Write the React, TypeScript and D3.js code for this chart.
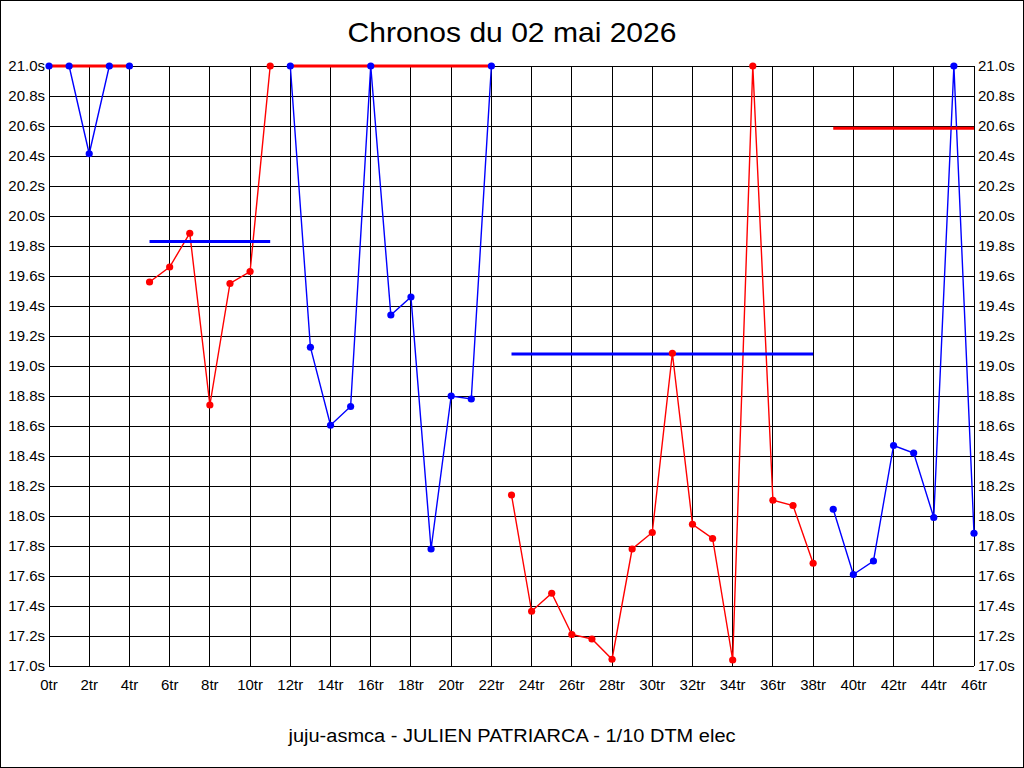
import React from "react";
import * as d3 from "d3";

const lapTimes = [
  21.0, 21.0, 20.415, 21.0, 21.0,
  19.56, 19.66, 19.885, 18.74, 19.55, 19.63, 21.0,
  21.0, 19.125, 18.605, 18.73, 21.0, 19.34, 19.46, 17.78, 18.8, 18.78, 21.0,
  18.14, 17.365, 17.485, 17.21, 17.18, 17.045, 17.78, 17.89, 19.085, 17.945, 17.85, 17.04, 21.0, 18.105, 18.07, 17.685,
  18.045, 17.61, 17.7, 18.47, 18.42, 17.99, 21.0, 17.885,
];
const stintStart = [0, 5, 12, 23, 39];
const stintEnd = [4, 11, 22, 38, 46];
const stintAvg = [21.0, 19.83, 21.0, 19.08, 20.585];
const stintColors = ["#0000ff", "#ff0000", "#0000ff", "#ff0000", "#0000ff"];
const avgColors = ["#ff0000", "#0000ff", "#ff0000", "#0000ff", "#ff0000"];
const xTicks = d3.range(0, 47, 2);
const yTicks = d3.range(0, 21).map((i) => 17 + i * 0.2);

const W = 1024;
const H = 768;
const FONT = "'Liberation Sans', Arial, sans-serif";

export default function App() {
  const x = d3.scaleLinear().domain([0, 46]).range([49, 974]);
  const y = d3.scaleLinear().domain([17, 21]).range([666, 66]);
  const line = d3
    .line<number>()
    .x((i) => x(i))
    .y((i) => y(lapTimes[i]));

  return (
    <svg
      width={W}
      height={H}
      style={{ position: "absolute", left: 0, top: 0, background: "#fff" }}
      fontFamily={FONT}
    >
      <rect x={0.5} y={0.5} width={W - 1} height={H - 1} fill="#fff" stroke="#000" />
      <text x={512} y={42} textAnchor="middle" fontSize={28} fill="#000" textLength={329} lengthAdjust="spacingAndGlyphs">
        Chronos du 02 mai 2026
      </text>
      {/* grid */}
      <g shapeRendering="crispEdges" stroke="#000" strokeWidth={1}>
        {yTicks.map((v, i) => (
          <line key={"h" + i} x1={x(0)} x2={x(46)} y1={y(v)} y2={y(v)} />
        ))}
        {xTicks.map((t) => (
          <line key={"v" + t} x1={x(t)} x2={x(t)} y1={y(17)} y2={y(21)} />
        ))}
      </g>
      {/* y labels */}
      <g fontSize={15} fill="#000">
        {yTicks.map((v, i) => (
          <React.Fragment key={"yl" + i}>
            <text x={45} y={y(v)} dy="0.33em" textAnchor="end">
              {v.toFixed(1) + "s"}
            </text>
            <text x={978} y={y(v)} dy="0.33em" textAnchor="start">
              {v.toFixed(1) + "s"}
            </text>
          </React.Fragment>
        ))}
        {xTicks.map((t) => (
          <text key={"xl" + t} x={x(t)} y={690} textAnchor="middle">
            {t + "tr"}
          </text>
        ))}
      </g>
      {/* series lines */}
      {stintStart.map((s, k) => (
        <path
          key={"l" + k}
          d={line(d3.range(s, stintEnd[k] + 1)) || ""}
          fill="none"
          stroke={stintColors[k]}
          strokeWidth={1.4}
        />
      ))}
      {/* averages */}
      {stintStart.map((s, k) => (
        <line
          key={"a" + k}
          x1={x(s)}
          x2={x(stintEnd[k])}
          y1={y(stintAvg[k])}
          y2={y(stintAvg[k])}
          stroke={avgColors[k]}
          strokeWidth={3}
        />
      ))}
      {/* markers */}
      {stintStart.map((s, k) =>
        d3.range(s, stintEnd[k] + 1).map((i) => (
          <circle key={"c" + i} cx={x(i)} cy={y(lapTimes[i])} r={3.6} fill={stintColors[k]} />
        ))
      )}
      <text x={512} y={742} textAnchor="middle" fontSize={18} fill="#000" textLength={447} lengthAdjust="spacingAndGlyphs">
        juju-asmca - JULIEN PATRIARCA - 1/10 DTM elec
      </text>
    </svg>
  );
}
